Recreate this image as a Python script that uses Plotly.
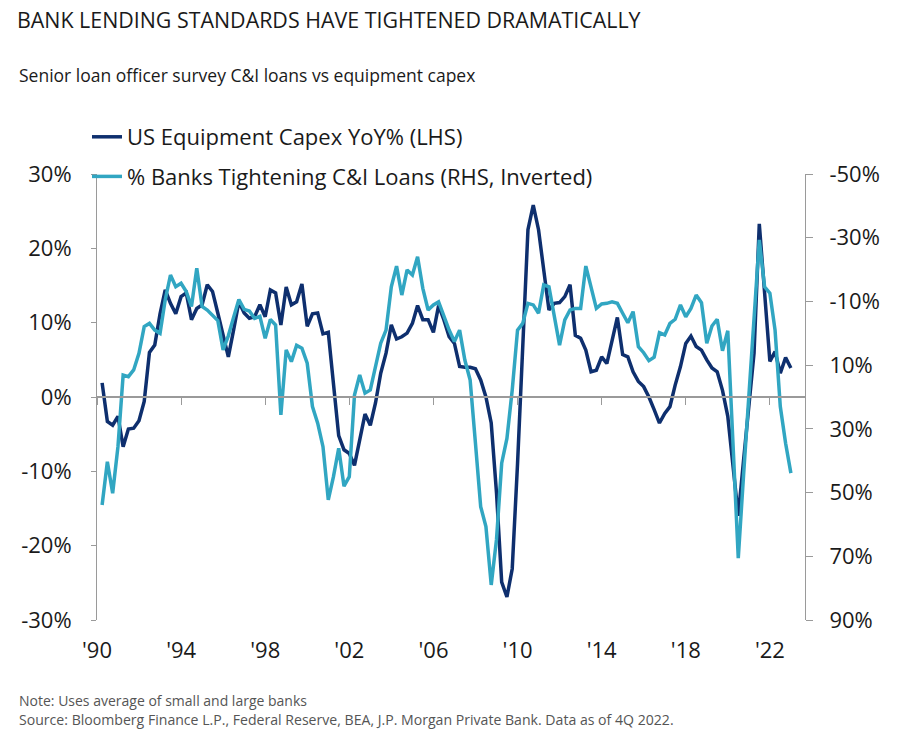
import pandas as pd
import plotly.graph_objects as go

# Quarterly data, 1990Q1 .. 2022Q4
quarters = [f"{y}Q{q}" for y in range(1990, 2023) for q in range(1, 5)]

capex_yoy = [
    1.9, -3.3, -3.8, -2.6, -6.7, -4.3, -4.2, -3.2, -0.6, 6.0,
    7.0, 11.2, 14.4, 12.6, 11.2, 13.5, 14.0, 10.4, 11.9, 12.4,
    15.1, 14.2, 11.3, 8.1, 5.4, 9.0, 12.8, 11.3, 10.6, 10.8,
    12.4, 10.8, 14.4, 14.0, 9.7, 14.8, 12.4, 12.8, 15.2, 9.5,
    11.2, 11.3, 8.5, 8.7, 2.3, -5.2, -7.1, -7.6, -9.2, -5.8,
    -2.3, -3.8, -0.8, 3.2, 5.9, 9.7, 7.8, 8.1, 8.6, 9.9,
    12.3, 10.4, 10.4, 8.7, 12.3, 10.4, 8.1, 7.2, 4.1, 4.0,
    4.0, 3.8, 2.3, 0.0, -3.5, -12.9, -24.9, -26.9, -23.1, -9.0,
    7.0, 22.5, 25.8, 22.5, 17.1, 11.7, 12.6, 12.7, 13.5, 15.1,
    8.3, 7.9, 6.3, 3.4, 3.6, 5.4, 4.5, 7.4, 10.7, 5.7,
    5.4, 3.4, 2.1, 1.4, 0.0, -1.7, -3.5, -2.2, -1.3, 1.6,
    4.1, 7.2, 8.2, 6.8, 6.3, 5.0, 3.9, 3.4, 0.9, -2.6,
    -9.4, -16.0, -8.5, -1.7, 5.9, 23.3, 14.0, 4.8, 6.1, 3.2,
    5.3, 3.9,
]

banks_tightening = [
    53.9, 40.3, 50.2, 35.6, 13.1, 13.6, 11.5, 6.3, -2.1, -3.1,
    -1.0, 0.0, -10.5, -18.3, -14.6, -15.7, -13.1, -8.4, -20.4, -8.4,
    -7.3, -5.7, -4.0, 5.2, 0.8, -5.0, -10.6, -7.5, -7.0, -4.7,
    -5.3, 1.6, -4.3, -2.6, 25.6, 5.2, 8.9, 3.8, 4.7, 9.4,
    23.0, 28.2, 35.6, 52.3, 45.0, 36.1, 48.0, 45.0, 19.4, 13.1,
    18.8, 17.8, 10.5, 3.1, -1.0, -14.6, -21.1, -12.0, -19.9, -18.3,
    -24.0, -14.1, -7.3, -8.9, -9.9, -5.2, -1.0, 2.6, -1.0, 8.4,
    14.7, 34.5, 54.4, 60.7, 79.0, 64.7, 40.8, 33.0, 17.8, -1.0,
    -3.1, -9.4, -8.9, -6.3, -15.2, -14.6, -5.2, 3.7, -4.2, -7.3,
    -7.8, -7.8, -21.1, -14.6, -7.8, -9.2, -9.4, -9.9, -9.4, -6.3,
    -3.3, -6.8, 4.2, 6.1, 8.6, 7.5, -0.2, 0.5, -3.1, -4.4,
    -8.9, -5.2, -7.8, -12.0, -9.6, 3.1, -2.3, -4.4, 5.5, -0.8,
    33.0, 70.6, 44.5, 18.8, -6.8, -29.3, -14.6, -12.6, -1.0, 23.0,
    34.5, 43.9,
]

x_tick_years = [1990, 1994, 1998, 2002, 2006, 2010, 2014, 2018, 2022]
x_tick_text = ["'90", "'94", "'98", "'02", "'06", "'10", "'14", "'18", "'22"]
left_ticks = [-30, -20, -10, 0, 10, 20, 30]
right_ticks = [-50, -30, -10, 10, 30, 50, 70, 90]

name_capex = "US Equipment Capex YoY% (LHS)"
name_banks = "% Banks Tightening C&I Loans (RHS, Inverted)"

DARK = "#0e2f6e"
LIGHT = "#31a6c2"
AXIS = "#9a9a9a"
FONT = "Open Sans"
W, H = 900, 739

dates = pd.PeriodIndex(quarters, freq="Q").to_timestamp(how="end").normalize()
x_tickvals = [pd.Timestamp(f"{y}-01-01") for y in x_tick_years]
x_range = [pd.Timestamp("1990-01-01"), pd.Timestamp("2023-09-02")]

fig = go.Figure()
fig.add_trace(go.Scatter(
    x=dates, y=banks_tightening, name=name_banks, mode="lines",
    line=dict(color=LIGHT, width=3.5), yaxis="y2", legendgroup="b",
    legendrank=2,
))
fig.add_trace(go.Scatter(
    x=dates, y=capex_yoy, name=name_capex, mode="lines",
    line=dict(color=DARK, width=3.5), yaxis="y", legendgroup="a",
    legendrank=1,
))
# invisible trace so the bottom label axis is drawn
fig.add_trace(go.Scatter(x=[dates[0]], y=[None], xaxis="x2", yaxis="y",
                         showlegend=False, hoverinfo="skip"))

fig.update_layout(
    width=W, height=H,
    margin=dict(l=97, r=95, t=174, b=119, autoexpand=False),
    paper_bgcolor="white", plot_bgcolor="white",
    font=dict(family=FONT, color="#1a1a1a"),
    title=dict(
        text="BANK LENDING STANDARDS HAVE TIGHTENED DRAMATICALLY",
        x=17 / W, xanchor="left", xref="container",
        y=1 - 21 / H, yanchor="middle", yref="container",
        pad=dict(l=0, r=0, t=0, b=0),
        font=dict(size=21.4, family=FONT, color="#1a1a1a"),
    ),
    showlegend=True,
    legend=dict(
        xref="container", yref="container",
        x=87 / W, xanchor="left", y=1 - 116 / H, yanchor="top",
        font=dict(size=22, family=FONT, color="#1a1a1a"),
        bgcolor="rgba(0,0,0,0)", tracegroupgap=8,
        itemwidth=30,
    ),
    xaxis=dict(
        type="date", range=x_range, anchor="free", position=0.5,
        showline=True, linecolor=AXIS, linewidth=2,
        ticks="outside", ticklen=7, tickcolor=AXIS, tickwidth=1,
        tickvals=x_tickvals, showticklabels=False, showgrid=False,
        zeroline=False,
    ),
    xaxis2=dict(
        type="date", range=x_range, overlaying="x", side="bottom",
        anchor="y", showline=False, ticks="", showgrid=False,
        tickvals=x_tickvals, ticktext=x_tick_text,
        tickfont=dict(size=22, family=FONT, color="#1a1a1a"),
        ticklabelstandoff=15, zeroline=False,
    ),
    yaxis=dict(
        range=[-30, 30], tickvals=left_ticks,
        ticktext=[f"{v}%" for v in left_ticks],
        showline=True, linecolor=AXIS, linewidth=1,
        ticks="outside", ticklen=5, tickcolor=AXIS,
        showgrid=False, zeroline=False,
        tickfont=dict(size=22, family=FONT, color="#1a1a1a"),
        ticklabelstandoff=15,
    ),
    yaxis2=dict(
        range=[90, -50], overlaying="y", side="right", anchor="x",
        tickvals=right_ticks, ticktext=[f"{v}%" for v in right_ticks],
        showline=True, linecolor=AXIS, linewidth=1,
        ticks="outside", ticklen=7, tickcolor=AXIS,
        showgrid=False, zeroline=False,
        tickfont=dict(size=22, family=FONT, color="#1a1a1a"),
        ticklabelstandoff=12,
    ),
)

pw = W - 97 - 95
ph = H - 174 - 119


def px_x(x):
    return (x - 97) / pw


def px_y(y):
    return (H - 119 - y) / ph


fig.add_annotation(
    text="Senior loan officer survey C&I loans vs equipment capex",
    xref="paper", yref="paper", x=px_x(17), y=px_y(75),
    xanchor="left", yanchor="middle", showarrow=False,
    font=dict(size=17.5, family=FONT, color="#1a1a1a"),
)
fig.add_annotation(
    text="Note: Uses average of small and large banks",
    xref="paper", yref="paper", x=px_x(17), y=px_y(700),
    xanchor="left", yanchor="middle", showarrow=False,
    font=dict(size=14, family=FONT, color="#555555"),
)
fig.add_annotation(
    text="Source: Bloomberg Finance L.P., Federal Reserve, BEA, J.P. Morgan Private Bank. Data as of 4Q 2022.",
    xref="paper", yref="paper", x=px_x(17), y=px_y(719),
    xanchor="left", yanchor="middle", showarrow=False,
    font=dict(size=14.1, family=FONT, color="#555555"),
)

fig.write_html(
    "out.html",
    config={"displayModeBar": False},
    post_script="document.body.style.margin='0';document.body.style.overflow='hidden';",
)
